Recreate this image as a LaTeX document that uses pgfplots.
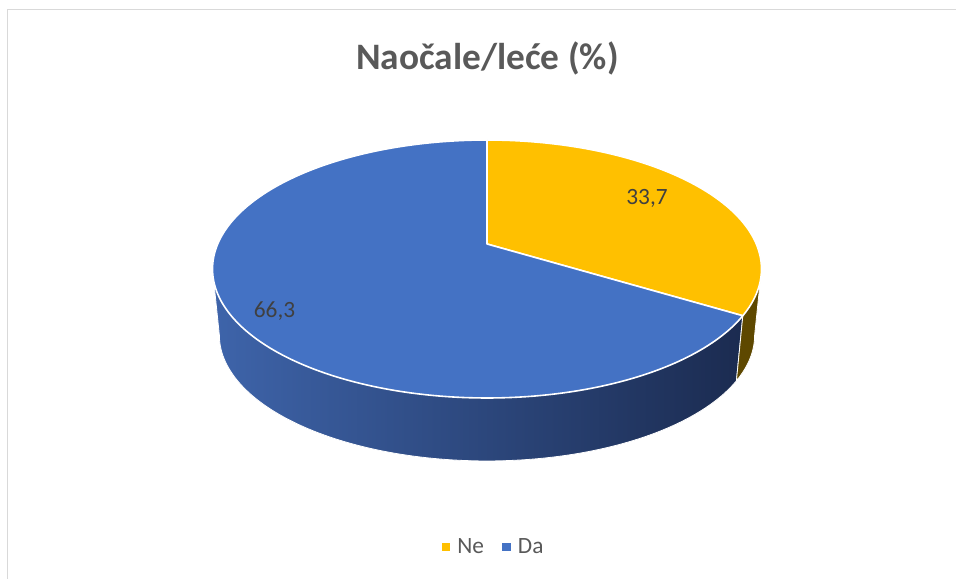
\documentclass[border=0pt]{standalone}
\usepackage{pgfplots}
\pgfplotsset{compat=1.18}
\usepackage{fontspec}
\setmainfont{Carlito}

\definecolor{cNe}{HTML}{FFC000}
\definecolor{cDa}{HTML}{4472C4}
\definecolor{sNe}{RGB}{94,72,0}
\definecolor{sDaL}{RGB}{62,100,170}
\definecolor{sDaM}{RGB}{42,70,128}
\definecolor{sDaR}{RGB}{27,43,80}
\definecolor{txt}{HTML}{595959}
\definecolor{lbl}{HTML}{404040}
\definecolor{frm}{HTML}{D9D9D9}

% data (percent)
\def\valNe{33.7}
\def\valDa{66.3}

% geometry in pixel units
\def\cx{487}\def\cy{-269}\def\rx{274.5}\def\ry{129}\def\pp{0.1938}\def\sc{0.975}\def\dd{66.2}

\pgfmathsetmacro{\aNe}{90-3.6*\valNe}
\pgfmathsetmacro{\aEnd}{90+3.6*\valDa}
\pgfmathsetmacro{\aL}{180+asin(\pp)}
\pgfmathsetmacro{\aR}{360-asin(\pp)}
\pgfmathsetmacro{\kx}{\rx*sqrt(1-\pp*\pp)}
\pgfmathsetmacro{\bX}{\cx+\kx*cos(\aEnd)/(1+\pp*sin(\aEnd))}
\pgfmathsetmacro{\bY}{\cy+\ry*(sin(\aEnd)+\pp)/(1+\pp*sin(\aEnd))}
\pgfmathsetmacro{\lX}{\cx+\kx*cos(\aL)/(1+\pp*sin(\aL))}
\pgfmathsetmacro{\lY}{\cy+\ry*(sin(\aL)+\pp)/(1+\pp*sin(\aL))}
\pgfmathsetmacro{\rX}{\cx+\kx*cos(\aR)/(1+\pp*sin(\aR))}
\pgfmathsetmacro{\rY}{\cy+\ry*(sin(\aR)+\pp)/(1+\pp*sin(\aR))}
\pgfmathsetmacro{\pcY}{\cy+\ry*\pp}

\begin{document}
\begin{tikzpicture}
\begin{axis}[
  scale only axis, width=717pt, height=433.5pt,
  xmin=0, xmax=956, ymin=-578, ymax=0,
  hide axis, clip=false,
  declare function={
    TX(\t)=\cx+\kx*cos(\t)/(1+\pp*sin(\t));
    TY(\t)=\cy+\ry*(sin(\t)+\pp)/(1+\pp*sin(\t));
    BX(\t)=\cx+\sc*(TX(\t)-\cx);
    BY(\t)=\cy+\sc*(TY(\t)-\cy)-\dd;
  },
  legend columns=2,
  legend style={at={(0.519,0.0536)}, anchor=center, draw=none, fill=none,
    inner sep=0pt, font=\fontsize{17.5}{21}\selectfont\color{txt},
    /tikz/every even column/.append style={column sep=8pt},
    nodes={inner xsep=5.5pt}},
  legend image code/.code={\fill[#1,draw=none] (0pt,-3.2pt) rectangle (6.4pt,3.2pt);},
]
% outer frame
\draw[frm, line width=1.2pt] (axis cs:7.5,-600) -- (axis cs:7.5,-9.5) -- (axis cs:980,-9.5);

% side walls
\addplot[forget plot, draw=white, line width=0.6pt, line join=round,
  left color=sDaL, middle color=sDaM, right color=sDaR,
  domain=\aL:\aEnd, samples=120]
  ({BX(x)},{BY(x)}) -- (axis cs:\bX,\bY) -- (axis cs:\lX,\lY) -- cycle;
\addplot[forget plot, draw=white, line width=0.6pt, line join=round,
  fill=sNe, domain=\aEnd:\aR, samples=30]
  ({BX(x)},{BY(x)}) -- (axis cs:\rX,\rY) -- (axis cs:\bX,\bY) -- cycle;

% top faces
\addplot[fill=cNe, draw=white, line width=1.2pt, line join=round,
  domain=\aNe:90, samples=90]
  ({TX(x)},{TY(x)}) -- (axis cs:\cx,\pcY) -- cycle;
\addlegendentry{Ne}
\addplot[fill=cDa, draw=white, line width=1.2pt, line join=round,
  domain=90:\aEnd, samples=180]
  ({TX(x)},{TY(x)}) -- (axis cs:\cx,\pcY) -- cycle;
\addlegendentry{Da}

% texts
\node[font=\fontsize{28}{34}\selectfont\bfseries, text=txt, anchor=base]
  at (axis cs:487.5,-70) {Naočale/leće (\%)};
\node[font=\fontsize{17.5}{21}\selectfont, text=lbl, anchor=base]
  at (axis cs:647,-205) {33,7};
\node[font=\fontsize{17.5}{21}\selectfont, text=lbl, anchor=base]
  at (axis cs:274.5,-318) {66,3};
\end{axis}
\pgfresetboundingbox
\useasboundingbox (current axis.south west) rectangle (current axis.north east);
\end{tikzpicture}
\end{document}
